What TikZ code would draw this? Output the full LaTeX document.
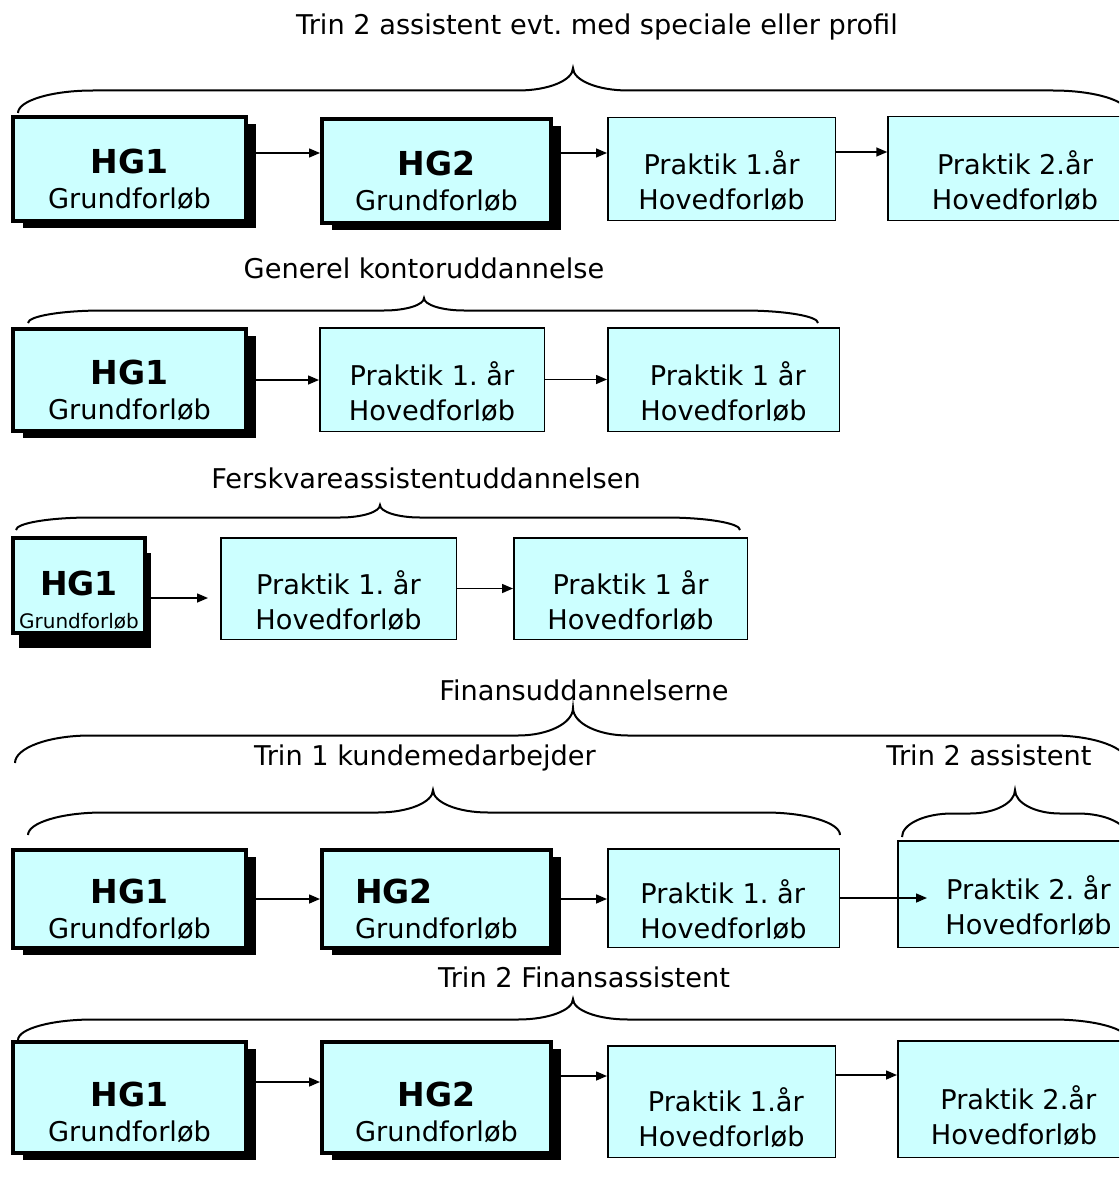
\documentclass[tikz,border=0pt]{standalone}
\usepackage{fontspec}
\setmainfont{DejaVu Sans}
\usetikzlibrary{arrows.meta,shadows}

\definecolor{boxcyan}{RGB}{204,255,255}

\newcommand{\hgtop}[2][46pt]{\rule{0pt}{#1}{\fontsize{33}{33}\selectfont\bfseries #2}}
\newcommand{\hgsmalltop}[1]{\rule{0pt}{53pt}{\fontsize{33}{33}\selectfont\bfseries #1}}
\newcommand{\prtop}[1][48pt]{\rule{0pt}{#1}}

% #1 x left, #2 x right, #3 y ends, #4 y tip, #5 x tip, #6 end width, #7 tip width
\newcommand{\curly}[7]{%
  \pgfmathsetmacro{\brMid}{(#3+#4)/2}
  \pgfmathsetmacro{\brEnd}{\brMid+0.45*(#3-\brMid)}
  \pgfmathsetmacro{\brTip}{\brMid-0.45*(\brMid-#4)}
  \draw[klamme] (#1,#3) .. controls (#1,\brEnd) and ({#1+0.45*#6},\brMid) .. ({#1+#6},\brMid)
    -- ({#5-#7},\brMid) .. controls ({#5-0.45*#7},\brMid) and (#5,\brTip) .. (#5,#4)
    .. controls (#5,\brTip) and ({#5+0.45*#7},\brMid) .. ({#5+#7},\brMid)
    -- ({#2-#6},\brMid) .. controls ({#2-0.45*#6},\brMid) and (#2,\brEnd) .. (#2,#3);
}

\begin{document}
\frenchspacing
\begin{tikzpicture}[x=1pt,y=-1pt]

	\tikzset{
	  hgbox/.style={
		draw, line width=4pt, fill=boxcyan, inner sep=0pt, align=center,
		font=\fontsize{27.2}{35}\selectfont,
		drop shadow={shadow xshift=10pt, shadow yshift=-7pt, fill=black, opacity=1},
	  },
	  hgsmall/.style={
		draw, line width=4pt, fill=boxcyan, inner sep=0pt, align=center,
		font=\fontsize{20}{33}\selectfont,
		drop shadow={shadow xshift=6pt, shadow yshift=-15pt, fill=black, opacity=1},
	  },
	  prbox/.style={
		draw, line width=1.5pt, fill=boxcyan, inner sep=0pt, align=center,
		font=\fontsize{27.2}{35}\selectfont,
	  },
	  titel/.style={anchor=base, font=\fontsize{27.2}{33}\selectfont},
	  klamme/.style={line width=2pt},
	  pil/.style={line width=1.5pt, -{Triangle[length=11pt,width=9pt]}},
	}
	\useasboundingbox (0,0) rectangle (1119,1196);
	\clip (0,0) rectangle (1119,1196);
	\fill[white] (0,0) rectangle (1119,1196);

	% Trin 2 assistent
	\node[titel] (t1) at (597,35) {Trin 2 assistent evt. med speciale eller profil};
	\curly{18}{1128}{113}{68}{573}{75}{55}
	\node[hgbox, minimum width=233pt, minimum height=104pt] (r1a) at (129.5,169) {\hgtop{HG1}\\Grundforløb};
	\node[hgbox, minimum width=229pt, minimum height=104pt] (r1b) at (436.5,171) {\hgtop{HG2}\\Grundforløb};
	\node[prbox, minimum width=227.5pt, minimum height=102.5pt] (r1c) at (721.5,169) {\prtop Praktik 1.år\\Hovedforløb};
	\node[prbox, minimum width=254pt, minimum height=103.5pt] (r1d) at (1015,168.5) {\prtop Praktik 2.år\\Hovedforløb};
	\draw[pil] ([yshift=16pt]r1a.east) -- ([yshift=16pt]r1a.east -| r1b.west);
	\draw[pil] ([yshift=18pt]r1b.east) -- ([yshift=18pt]r1b.east -| r1c.west);
	\draw[pil] ([yshift=17pt]r1c.east) -- ([yshift=17pt]r1c.east -| r1d.west);

	% Generel kontoruddannelse
	\node[titel] (t2) at (424,278) {Generel kontoruddannelse};
	\curly{28}{818}{323}{298}{424}{75}{40}
	\node[hgbox, minimum width=233pt, minimum height=102pt] (r2a) at (129.5,380) {\hgtop{HG1}\\Grundforløb};
	\node[prbox, minimum width=224.5pt, minimum height=103.5pt] (r2b) at (432,379.5) {\prtop Praktik 1. år\\Hovedforløb};
	\node[prbox, minimum width=231.5pt, minimum height=103.5pt] (r2c) at (723.5,379.5) {\prtop \ Praktik 1 år\\Hovedforløb};
	\draw[pil] (r2a.east) -- (r2a.east -| r2b.west);
	\draw[pil] (r2b.east) -- (r2b.east -| r2c.west);

	% Ferskvareassistentuddannelsen
	\node[titel] (t3) at (426,488) {Ferskvareassistentuddannelsen};
	\curly{16}{740}{530}{505}{380}{75}{40}
	\node[hgsmall, minimum width=132pt, minimum height=95pt] (r3a) at (79,585.5) {\hgsmalltop{HG1}\\Grundforløb};
	\node[prbox, minimum width=235.5pt, minimum height=101.5pt] (r3b) at (338.5,588.5) {\prtop Praktik 1. år\\Hovedforløb};
	\node[prbox, minimum width=233.5pt, minimum height=101.5pt] (r3c) at (630.5,588.5) {\prtop Praktik 1 år\\Hovedforløb};
	\draw[pil, shorten >=12pt] ([yshift=-12.5pt]r3a.east) -- ([yshift=-12.5pt]r3a.east -| r3b.west);
	\draw[pil] (r3b.east) -- (r3b.east -| r3c.west);

	% Finansuddannelserne
	\node[titel] (t4) at (584,700) {Finansuddannelserne};
	\curly{15}{1128}{763}{708}{573}{75}{55}
	\node[titel] (t4a) at (425,765) {Trin 1 kundemedarbejder};
	\node[titel] (t4b) at (989,765) {Trin 2 assistent};
	\curly{28}{840}{835}{790}{433}{75}{55}
	\curly{902}{1128}{837}{790}{1015}{50}{45}
	\node[hgbox, minimum width=233pt, minimum height=98pt] (r4a) at (129.5,899) {\hgtop{HG1}\\Grundforløb};
	\node[hgbox, align=left, minimum width=229pt, minimum height=98pt] (r4b) at (436.5,899) {\hgtop{HG2}\\Grundforløb};
	\node[prbox, align=left, minimum width=231.5pt, minimum height=98.5pt] (r4c) at (723.5,898) {\prtop Praktik 1. år\\Hovedforløb};
	\node[prbox, minimum width=261.5pt, minimum height=106.5pt] (r4d) at (1028.5,894) {\prtop Praktik 2. år\\Hovedforløb};
	\draw[pil] (r4a.east) -- (r4a.east -| r4b.west);
	\draw[pil] (r4b.east) -- (r4b.east -| r4c.west);
	\draw[pil, shorten >=-30pt] (r4c.east) -- (r4c.east -| r4d.west);

	% Trin 2 Finansassistent
	\node[titel] (t5) at (584,987) {Trin 2 Finansassistent};
	\curly{18}{1128}{1040}{999}{573}{75}{55}
	\node[hgbox, minimum width=233pt, minimum height=111pt] (r5a) at (129.5,1097.5) {\hgtop[55pt]{HG1}\\Grundforløb};
	\node[hgbox, minimum width=229pt, minimum height=111pt] (r5b) at (436.5,1097.5) {\hgtop[55pt]{HG2}\\Grundforløb};
	\node[prbox, minimum width=227.5pt, minimum height=111.5pt] (r5c) at (721.5,1101.5) {\prtop[57pt] Praktik 1.år\\Hovedforløb};
	\node[prbox, minimum width=232.5pt, minimum height=116.5pt] (r5d) at (1014,1099) {\prtop[57pt] Praktik 2.år\\Hovedforløb};
	\draw[pil] ([yshift=15.5pt]r5a.east) -- ([yshift=15.5pt]r5a.east -| r5b.west);
	\draw[pil] ([yshift=21.5pt]r5b.east) -- ([yshift=21.5pt]r5b.east -| r5c.west);
	\draw[pil] ([yshift=26.5pt]r5c.east) -- ([yshift=26.5pt]r5c.east -| r5d.west);

\end{tikzpicture}
\end{document}
